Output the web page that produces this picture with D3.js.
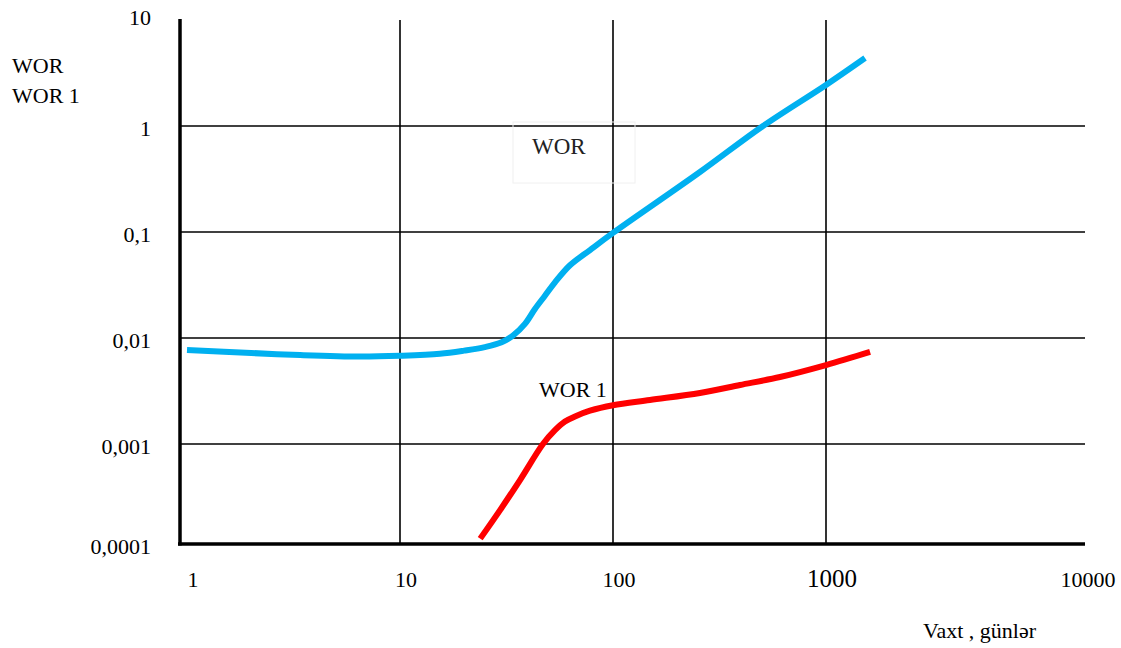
<!DOCTYPE html>
<html>
<head>
<meta charset="utf-8">
<script src="https://cdn.jsdelivr.net/npm/d3@7"></script>
<style>
  html, body { margin: 0; padding: 0; background: #fff; }
  svg { display: block; }
  text { font-family: "Liberation Serif", "Times New Roman", serif; fill: #000; }
</style>
</head>
<body>
<svg id="chart" width="1121" height="648"></svg>
<script>
// ---- data ----
const xTickValues = [1, 10, 100, 1000, 10000];
const xTickLabels = ["1", "10", "100", "1000", "10000"];
const yTickValues = [10, 1, 0.1, 0.01, 0.001, 0.0001];
const yTickLabels = ["10", "1", "0,1", "0,01", "0,001", "0,0001"];
const xGrid = [10, 100, 1000];
const yGrid = [1, 0.1, 0.01, 0.001];

const worTime  = [1, 2, 3.4, 6.5, 10, 15.4, 20, 25, 30, 34, 38.6, 43, 48, 53.4, 62.8, 78, 100, 256, 506, 1000, 1525];
const worValue = [0.0077, 0.00722, 0.0069, 0.00668, 0.0068, 0.0071, 0.0076, 0.0082, 0.0091, 0.0106, 0.0136, 0.0188, 0.0252, 0.0335, 0.0485, 0.0676, 0.098, 0.368, 1.0, 2.44, 4.38];

const wor1Time  = [23.8, 29.5, 36.6, 46.9, 53.4, 59.5, 66.3, 78, 100, 149, 256, 395, 608, 1000, 1610];
const wor1Value = [0.000128, 0.000238, 0.000457, 0.001, 0.00135, 0.00163, 0.00182, 0.00206, 0.00232, 0.0026, 0.00303, 0.0036, 0.00429, 0.00556, 0.00738];

const yAxisTitle = ["WOR", "WOR 1"];
const xAxisTitle = "Vaxt , günlər";
const seriesNames = ["WOR", "WOR 1"];

// ---- layout ----
const svg = d3.select("#chart");
const x = d3.scaleLog().domain([1, 10000]).range([187, 1039]);
const y = d3.scaleLog().domain([0.0001, 10]).range([550, 20]);
const plotLeft = 180, plotRight = 1085, plotTop = y(10), plotBottom = 544;

// gridlines
svg.selectAll("line.vgrid").data(xGrid).enter().append("line")
  .attr("x1", d => x(d)).attr("x2", d => x(d))
  .attr("y1", plotTop).attr("y2", plotBottom)
  .attr("stroke", "#000").attr("stroke-width", 1.6);
svg.selectAll("line.hgrid").data(yGrid).enter().append("line")
  .attr("x1", plotLeft).attr("x2", plotRight)
  .attr("y1", d => y(d)).attr("y2", d => y(d))
  .attr("stroke", "#000").attr("stroke-width", 1.6);

// axes
svg.append("line").attr("x1", plotLeft).attr("x2", plotLeft)
  .attr("y1", plotTop - 1).attr("y2", plotBottom + 1.5)
  .attr("stroke", "#000").attr("stroke-width", 3.5);
svg.append("line").attr("x1", plotLeft - 2).attr("x2", plotRight)
  .attr("y1", plotBottom).attr("y2", plotBottom)
  .attr("stroke", "#000").attr("stroke-width", 3.5);

// y tick labels
svg.selectAll("text.ylab").data(yTickValues).enter().append("text")
  .attr("x", 151).attr("y", d => y(d) + (d === 10 ? 5 : d === 0.0001 ? 4 : 10))
  .attr("text-anchor", "end").style("font-size", "22px")
  .text((d, i) => yTickLabels[i]);

// x tick labels
svg.selectAll("text.xlab").data(xTickValues).enter().append("text")
  .attr("x", (d, i) => i === xTickValues.length - 1 ? plotRight + 3 : x(d) + 6)
  .attr("y", 587)
  .attr("text-anchor", "middle")
  .style("font-size", (d, i) => d === 1000 ? "25px" : "22px")
  .text((d, i) => xTickLabels[i]);

// axis titles
svg.selectAll("text.ytitle").data(yAxisTitle).enter().append("text")
  .attr("x", 12).attr("y", (d, i) => 73 + i * 30)
  .style("font-size", "22px").text(d => d);
svg.append("text").attr("x", 923).attr("y", 638)
  .style("font-size", "22px").text(xAxisTitle);

// curves
const line = d3.line().x(d => x(d[0])).y(d => y(d[1])).curve(d3.curveCatmullRom.alpha(0.5));
svg.append("path").datum(worTime.map((t, i) => [t, worValue[i]]))
  .attr("d", line).attr("fill", "none")
  .attr("stroke", "#00B0F0").attr("stroke-width", 6);
svg.append("path").datum(wor1Time.map((t, i) => [t, wor1Value[i]]))
  .attr("d", line).attr("fill", "none")
  .attr("stroke", "#FF0000").attr("stroke-width", 6);

// series labels
svg.append("rect").attr("x", 513).attr("y", 122).attr("width", 122).attr("height", 61)
  .attr("fill", "none").attr("stroke", "#f0f0f0").attr("stroke-width", 1);
svg.append("text").attr("x", 532).attr("y", 154)
  .style("font-size", "23px").style("fill", "#222")
  .text(seriesNames[0]);
svg.append("text").attr("x", 539).attr("y", 397)
  .style("font-size", "22px").text(seriesNames[1]);
</script>
</body>
</html>
